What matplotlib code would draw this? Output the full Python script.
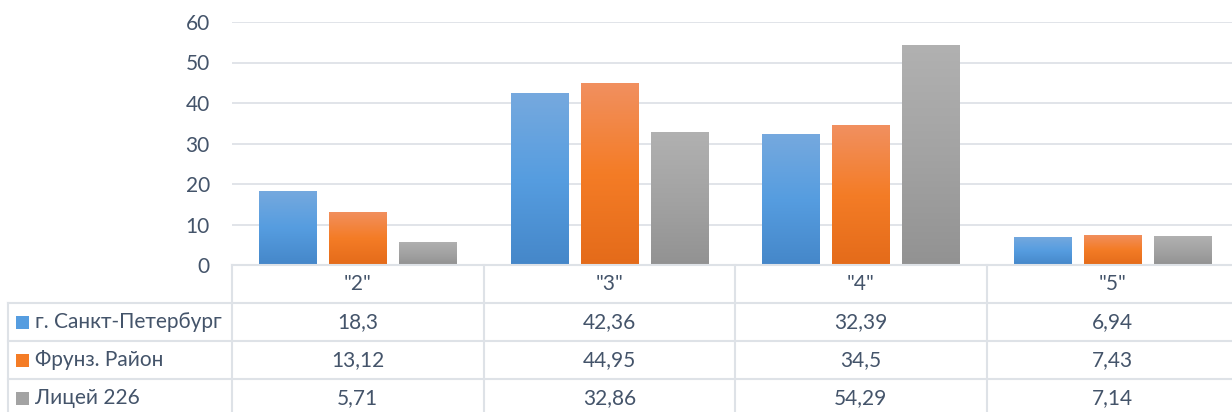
import numpy as np
import matplotlib.pyplot as plt
import matplotlib.transforms as mtransforms
import matplotlib.patheffects as pe
from matplotlib.colors import LinearSegmentedColormap
from matplotlib.lines import Line2D
from matplotlib.patches import Rectangle

plt.rcParams['font.family'] = ['Lato', 'Open Sans', 'DejaVu Sans']

categories = ['"2"', '"3"', '"4"', '"5"']
series_names = ["г. Санкт-Петербург", "Фрунз. Район", "Лицей 226"]
spb = [18.3, 42.36, 32.39, 6.94]
frunz = [13.12, 44.95, 34.5, 7.43]
lyceum = [5.71, 32.86, 54.29, 7.14]
yticks = [0, 10, 20, 30, 40, 50, 60]

# top / middle / bottom colours of the Office-style gradient fill
gradients = [
    ["#76A9DE", "#569DE0", "#4587C9"],
    ["#F19060", "#F47C26", "#E46B1A"],
    ["#B1B1B1", "#A3A3A3", "#929292"],
]
text_color = "#44546A"
grid_color = "#DEE2E7"
fs = 15

W, H = 1232, 412
fig = plt.figure(figsize=(W / 100, H / 100), dpi=100)

# layout in pixels
plot_left, plot_top, plot_bottom = 232, 22, 265
col_w = 251.5
row_h = 38
table_left = 8

ax = fig.add_axes([plot_left / W, 1 - plot_bottom / H,
                   len(categories) * col_w / W, (plot_bottom - plot_top) / H])

x = np.arange(len(categories))
step = 0.278
width = 0.227
all_series = [spb, frunz, lyceum]
for i, (vals, cols) in enumerate(zip(all_series, gradients)):
    bars = ax.bar(x + (i - 1) * step, vals, width, color=cols[1], zorder=2,
                  path_effects=[pe.SimplePatchShadow(offset=(0.6, -1.2), shadow_rgbFace='#000000', alpha=0.12),
                                pe.Normal()])
    cmap = LinearSegmentedColormap.from_list(f"grad{i}", cols)
    grad = np.linspace(0, 1, 256).reshape(-1, 1)
    for b in bars:
        im = ax.imshow(grad, cmap=cmap, aspect='auto', zorder=3, interpolation='bilinear',
                       extent=(b.get_x(), b.get_x() + b.get_width(), 0, b.get_height()))
        im.set_clip_path(b)

ax.set_xlim(-0.5, len(categories) - 0.5)
ax.set_ylim(0, 60)
ax.set_yticks(yticks)
ax.set_xticks([])
ax.tick_params(axis='y', length=0, pad=16, labelsize=fs, labelcolor=text_color)
ax.yaxis.grid(True, color=grid_color, lw=1.3)
ax.set_axisbelow(True)
for s in ax.spines.values():
    s.set_visible(False)

# data table below the plot
def fy(py):
    return 1 - py / H

trans = mtransforms.blended_transform_factory(ax.transData, fig.transFigure)
n_rows = len(series_names)
rows_y = [plot_bottom + k * row_h for k in range(n_rows + 2)]
line_kw = dict(color=grid_color, lw=1.5, zorder=1)

fig.add_artist(Line2D([-0.5, len(categories) - 0.5], [fy(plot_bottom)] * 2, transform=trans, **line_kw))
for yy in rows_y[1:-1]:
    fig.add_artist(Line2D([table_left / W, 1], [fy(yy)] * 2, transform=fig.transFigure, **line_kw))
for k in range(len(categories)):
    fig.add_artist(Line2D([k - 0.5] * 2, [fy(plot_bottom), 0], transform=trans, **line_kw))
fig.add_artist(Line2D([table_left / W] * 2, [fy(rows_y[1]), 0], transform=fig.transFigure, **line_kw))

for k, cat in enumerate(categories):
    fig.text(k, fy(plot_bottom + row_h / 2), cat, transform=trans, ha='center', va='center',
             fontsize=fs, color=text_color)

for r, (name, vals, cols) in enumerate(zip(series_names, all_series, gradients)):
    yc = fy(rows_y[r + 1] + row_h / 2)
    fig.add_artist(Rectangle((16 / W, yc - 6.5 / H), 13 / W, 13 / H, transform=fig.transFigure,
                             facecolor=cols[1], edgecolor='none'))
    fig.text(35 / W, yc, name, ha='left', va='center', fontsize=fs, color=text_color)
    for k, v in enumerate(vals):
        fig.text(k, yc, f"{v:g}".replace('.', ','), transform=trans, ha='center', va='center',
                 fontsize=fs, color=text_color)

fig.savefig("out.png", dpi=100)
